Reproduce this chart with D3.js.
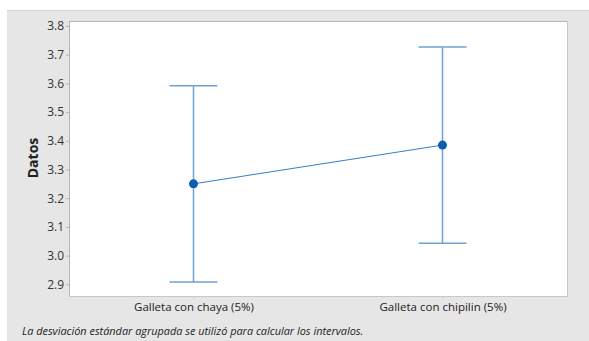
<!DOCTYPE html>
<html><head><meta charset="utf-8">
<script src="https://cdn.jsdelivr.net/npm/d3@7"></script>
<style>body{margin:0;background:#fff}svg{display:block}</style>
</head><body><svg id="c" width="589" height="341"></svg>
<script>
const categories = ["Galleta con chaya (5%)", "Galleta con chipilin (5%)"];
const means = [3.25, 3.385];
const lower = [2.908, 3.043];
const upper = [3.592, 3.727];
const yTicks = [2.9, 3.0, 3.1, 3.2, 3.3, 3.4, 3.5, 3.6, 3.7, 3.8];
const yLabel = "Datos";
const footnote = "La desviación estándar agrupada se utilizó para calcular los intervalos.";

const svg = d3.select("#c");
const font = "'Open Sans', 'Noto Sans', sans-serif";
svg.append("rect").attr("x",7).attr("y",10).attr("width",582).attr("height",331).attr("fill","#e6e6e6");
svg.append("line").attr("x1",7).attr("x2",589).attr("y1",10.5).attr("y2",10.5).attr("stroke","#d4d4d4");

const L=69, R=567, T=21, B=296;
svg.append("rect").attr("x",L).attr("y",T).attr("width",R-L).attr("height",B-T).attr("fill","#fff");
svg.append("line").attr("x1",R+0.5).attr("x2",R+0.5).attr("y1",T).attr("y2",B+1).attr("stroke","#c8c8c8").attr("stroke-width",1);
svg.append("line").attr("x1",L).attr("x2",R+1).attr("y1",B+0.5).attr("y2",B+0.5).attr("stroke","#c8c8c8");
svg.append("line").attr("x1",L).attr("x2",R).attr("y1",T+0.5).attr("y2",T+0.5).attr("stroke","#b4b4b4");
svg.append("line").attr("x1",L+0.5).attr("x2",L+0.5).attr("y1",T).attr("y2",B).attr("stroke","#b4b4b4");

const y = d3.scaleLinear().domain([2.9,3.8]).range([284.3,26]);
const x = d3.scalePoint().domain(categories).range([L,R]).padding(0.5);

const yAxis = d3.axisLeft(y).tickValues(yTicks).tickFormat(d3.format(".1f")).tickSize(3).tickPadding(2);
const gy = svg.append("g").attr("transform",`translate(${L},0)`).call(yAxis);
gy.select(".domain").remove();
gy.selectAll(".tick line").attr("stroke","#b4b4b4");
gy.selectAll("text").attr("font-family",font).attr("font-size",12).attr("fill","#333");

const xAxis = d3.axisBottom(x).tickSize(3).tickPadding(4);
const gx = svg.append("g").attr("transform",`translate(0,${B})`).call(xAxis);
gx.select(".domain").remove();
gx.selectAll(".tick line").attr("stroke","#c8c8c8");
gx.selectAll("text").attr("font-family",font).attr("font-size",11.5).attr("fill","#222");

svg.append("text").attr("transform","translate(38,158) rotate(-90)").attr("text-anchor","middle")
  .attr("font-family",font).attr("font-size",14).attr("font-weight","bold").attr("fill","#222").text(yLabel);

const capW = 24;
const data = categories.map((c,i)=>({c, m:means[i], lo:lower[i], hi:upper[i]}));
const ebColor = "#6fa3d3";
const g = svg.append("g");
data.forEach(d=>{
  const cx = x(d.c);
  g.append("line").attr("x1",cx).attr("x2",cx).attr("y1",y(d.hi)).attr("y2",y(d.lo)).attr("stroke",ebColor).attr("stroke-width",1.5);
  g.append("line").attr("x1",cx-capW).attr("x2",cx+capW).attr("y1",y(d.hi)).attr("y2",y(d.hi)).attr("stroke",ebColor).attr("stroke-width",1.5);
  g.append("line").attr("x1",cx-capW).attr("x2",cx+capW).attr("y1",y(d.lo)).attr("y2",y(d.lo)).attr("stroke",ebColor).attr("stroke-width",1.5);
});
g.append("path").datum(data).attr("fill","none").attr("stroke","#3a7cc4").attr("stroke-width",1)
  .attr("d",d3.line().x(d=>x(d.c)).y(d=>y(d.m)));
g.selectAll("circle").data(data).join("circle").attr("cx",d=>x(d.c)).attr("cy",d=>y(d.m)).attr("r",4.5).attr("fill","#0a5db0");

svg.append("text").attr("x",22).attr("y",335).attr("font-family",font).attr("font-size",10.9).attr("font-style","italic").attr("fill","#222").text(footnote);
</script></body></html>
